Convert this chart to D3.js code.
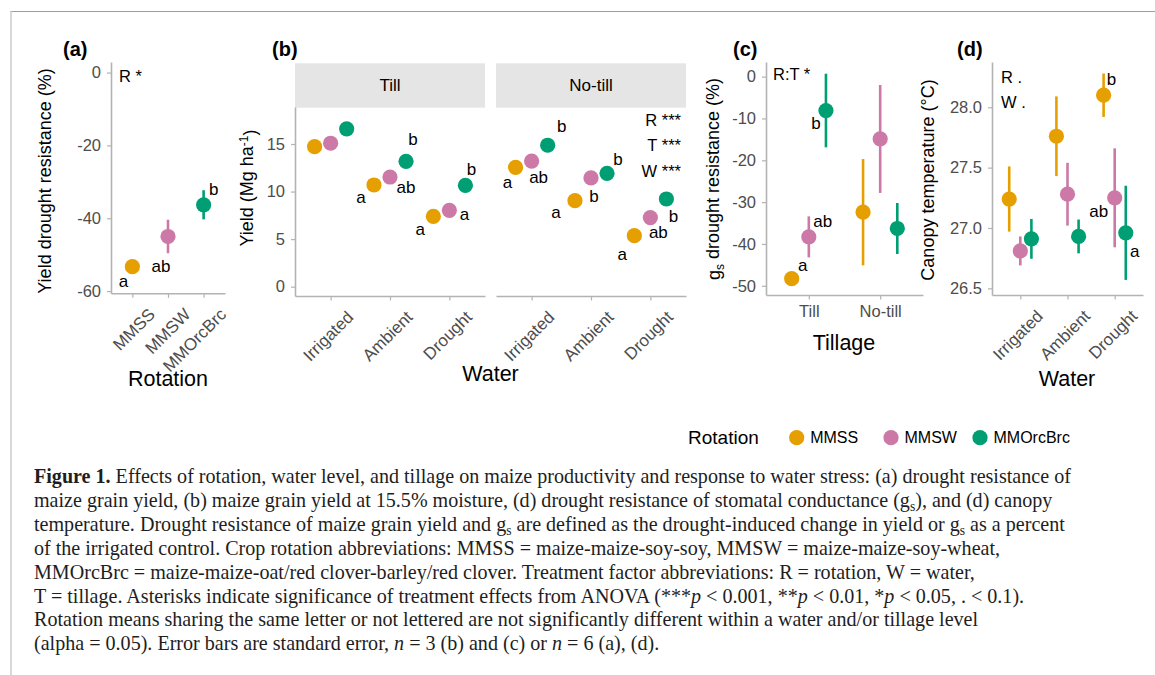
<!DOCTYPE html>
<html>
<head>
<meta charset="utf-8">
<script src="https://cdn.jsdelivr.net/npm/d3@7"></script>
<style>
  body { margin: 0; background: #fff; }
  svg { display: block; font-family: "Liberation Sans", Arial, Helvetica, sans-serif; }
</style>
</head>
<body>
<svg id="fig" width="1155" height="675"></svg>
<script>
// ---- data ----
const rotations = ["MMSS", "MMSW", "MMOrcBrc"];
const rotationColors = ["#E69F00", "#CC79A7", "#009E73"];
const waterLevels = ["Irrigated", "Ambient", "Drought"];
const tillages = ["Till", "No-till"];

// (a) yield drought resistance (%), one value per rotation
const yieldResist = [-53.3, -45.0, -36.3];
const yieldResistSE = [0.8, 4.6, 4.0];
const yieldResistLetters = ["a", "ab", "b"];
const yieldResistTicks = [0, -20, -40, -60];

// (b) yield (Mg/ha): rows = water level, columns = rotation
const yieldTill = [[14.72, 15.08, 16.60], [10.69, 11.53, 13.18], [7.40, 8.03, 10.66]];
const yieldTillSE = [[0.25, 0.55, 0.3], [0.2, 0.3, 0.3], [0.2, 0.55, 0.3]];
const yieldNoTill = [[12.55, 13.20, 14.87], [9.04, 11.43, 11.92], [5.36, 7.26, 9.22]];
const yieldNoTillSE = [[0.3, 0.3, 0.45], [0.3, 0.3, 0.3], [0.25, 0.3, 0.3]];
const yieldLettersTill = [["", "", ""], ["a", "ab", "b"], ["a", "a", "b"]];
const yieldLettersNoTill = [["a", "ab", "b"], ["a", "b", "b"], ["a", "ab", "b"]];
const yieldTicks = [0, 5, 10, 15];

// (c) gs drought resistance (%): one value per rotation, by tillage
const gsResistTill = [-48.3, -38.3, -8.1];
const gsResistTillSE = [0.6, 4.9, 8.8];
const gsResistNoTill = [-32.4, -14.9, -36.3];
const gsResistNoTillSE = [12.7, 12.9, 6.1];
const gsLettersTill = ["a", "ab", "b"];
const gsLettersNoTill = ["", "", ""];
const gsTicks = [0, -10, -20, -30, -40, -50];

// (d) canopy temperature (C): rows = water level, columns = rotation
const canopyTemp = [[27.24, 26.81, 26.91], [27.76, 27.28, 26.93], [28.10, 27.25, 26.96]];
const canopyTempSE = [[0.27, 0.12, 0.165], [0.33, 0.26, 0.14], [0.18, 0.41, 0.39]];
const canopyLetters = [["", "", ""], ["", "", ""], ["b", "ab", "a"]];
const canopyTicks = [26.5, 27.0, 27.5, 28.0];

// ---- layout: letter offsets from the point centre (px) ----
const nudgeA = [[-9, 15], [-7, 30], [10, -15]];
const nudgeBTill = [[[0, 0], [0, 0], [0, 0]], [[-13, 13], [16, 10], [7, -22]], [[-13, 13], [15, 4], [6, -16]]];
const nudgeBNoTill = [[[-8, 15], [7, 16], [14, -19]], [[-19, 12], [3, 19], [11, -14]], [[-12, 19], [8, 15], [7, 18]]];
const nudgeCTill = [[11, -13], [14, -15], [-10, 13]];
const nudgeD = [[[0, 0], [0, 0], [0, 0]], [[0, 0], [0, 0], [0, 0]], [[8, -16], [-16, 14], [9, 19]]];

const sans = '"Liberation Sans", Arial, Helvetica, sans-serif';
const serif = '"Liberation Serif", "Times New Roman", serif';
const axisGrey = "#b3b3b3";
const tickGrey = "#4d4d4d";

const svg = d3.select("#fig");

// outer frame of the figure page
svg.append("line").attr("x1", 10).attr("x2", 1155).attr("y1", 11.5).attr("y2", 11.5)
    .attr("stroke", "#9d9d9d").attr("stroke-width", 1.2);
svg.append("line").attr("x1", 11).attr("x2", 11).attr("y1", 11).attr("y2", 675)
    .attr("stroke", "#cfcfcf").attr("stroke-width", 1.6);

// ---- helpers ----
function styleAxis(a) {
    a.select(".domain").attr("stroke", axisGrey).attr("stroke-width", 1.6);
    a.selectAll(".tick line").attr("stroke", axisGrey).attr("stroke-width", 1.2);
    a.selectAll(".tick text").attr("fill", tickGrey)
        .style("font-size", "16.5px").style("font-family", sans);
}

function drawYAxis(x0, y, ticks, fmt) {
    const a = svg.append("g").attr("transform", `translate(${x0},0)`)
        .call(d3.axisLeft(y).tickValues(ticks).tickFormat(fmt)
            .tickSize(4).tickSizeOuter(0).tickPadding(6));
    styleAxis(a);
}

function drawXAxis(y0, x, rotated) {
    const a = svg.append("g").attr("transform", `translate(0,${y0})`)
        .call(d3.axisBottom(x).tickSize(4.5).tickSizeOuter(0).tickPadding(6));
    styleAxis(a);
    if (rotated) {
        a.selectAll(".tick text")
            .attr("x", 0).attr("y", 0).attr("dy", "0.35em")
            .attr("text-anchor", "end")
            .style("font-size", "17px")
            .attr("transform", "translate(19,18) rotate(-45)");
    }
}

function drawPointRanges(pts, y) {
    const g = svg.append("g");
    const each = g.selectAll("g").data(pts).enter().append("g");
    each.append("line")
        .attr("x1", d => d.px).attr("x2", d => d.px)
        .attr("y1", d => y(d.mean - d.se)).attr("y2", d => y(d.mean + d.se))
        .attr("stroke", d => rotationColors[d.rot]).attr("stroke-width", 2.6);
    each.append("circle")
        .attr("cx", d => d.px).attr("cy", d => y(d.mean)).attr("r", 7.6)
        .attr("fill", d => rotationColors[d.rot]);
    g.selectAll("text.letter").data(pts.filter(d => d.letter)).enter()
        .append("text").attr("class", "letter")
        .attr("x", d => d.px + d.nudge[0]).attr("y", d => y(d.mean) + d.nudge[1])
        .attr("text-anchor", "middle").attr("dominant-baseline", "central")
        .style("font-size", "17px").style("fill", "#000")
        .text(d => d.letter);
}

function panelLabel(x, txt) {
    svg.append("text").attr("x", x).attr("y", 56)
        .style("font-size", "20px").style("font-weight", "bold").text(txt);
}

function yTitle(cx, cy) {
    return svg.append("text")
        .attr("transform", `translate(${cx},${cy}) rotate(-90)`)
        .attr("text-anchor", "middle").attr("dy", "0.35em")
        .style("font-size", "18px");
}

function xTitle(cx, cy, txt) {
    svg.append("text").attr("x", cx).attr("y", cy).attr("dy", "0.35em")
        .attr("text-anchor", "middle").style("font-size", "21.5px").text(txt);
}

function statText(x, y, txt, anchor) {
    svg.append("text").attr("x", x).attr("y", y).attr("dy", "0.35em")
        .attr("text-anchor", anchor).style("font-size", "16.5px").text(txt);
}

const plain = d => String(d);

// ---- (a) ----
const xA = d3.scalePoint().domain(rotations).range([111, 225]).padding(0.6);
const yA = d3.scaleLinear().domain([-60.6, 2.9]).range([293.3, 62]);
drawYAxis(111, yA, yieldResistTicks, plain);
drawXAxis(293.3, xA, true);
drawPointRanges(rotations.map((r, i) => ({
    rot: i, px: xA(r), mean: yieldResist[i], se: yieldResistSE[i],
    letter: yieldResistLetters[i], nudge: nudgeA[i]
})), yA);
panelLabel(63, "(a)");
statText(119, 76.5, "R *", "start");
yTitle(45, 181).text("Yield drought resistance (%)");
xTitle(168, 378, "Rotation");

// ---- (b) ----
const yB = d3.scaleLinear().domain([-0.98, 18.89]).range([296, 107]);
const facetsB = [
    { name: "Till", range: [295, 485], vals: yieldTill, se: yieldTillSE, letters: yieldLettersTill, nudge: nudgeBTill },
    { name: "No-till", range: [496, 686], vals: yieldNoTill, se: yieldNoTillSE, letters: yieldLettersNoTill, nudge: nudgeBNoTill }
];
facetsB.forEach((f, fi) => {
    const x = d3.scalePoint().domain(waterLevels).range(f.range).padding(0.6);
    const dodge = x.step() * 0.27;
    svg.append("rect").attr("x", f.range[0]).attr("y", 63.3)
        .attr("width", f.range[1] - f.range[0]).attr("height", 44.4).attr("fill", "#e5e5e5");
    svg.append("text").attr("x", (f.range[0] + f.range[1]) / 2).attr("y", 85.5).attr("dy", "0.35em")
        .attr("text-anchor", "middle").style("font-size", "17px").text(f.name);
    if (fi === 0) drawYAxis(f.range[0], yB, yieldTicks, plain);
    drawXAxis(296, x, true);
    const pts = waterLevels.flatMap((w, wi) => rotations.map((r, ri) => ({
        rot: ri, px: x(w) + (ri - 1) * dodge, mean: f.vals[wi][ri], se: f.se[wi][ri],
        letter: f.letters[wi][ri], nudge: f.nudge[wi][ri]
    })));
    drawPointRanges(pts, yB);
});
panelLabel(272, "(b)");
["R ***", "T ***", "W ***"].forEach((s, i) => statText(681, 120 + i * 25.7, s, "end"));
const tb = yTitle(247, 188);
tb.append("tspan").text("Yield (Mg ha");
tb.append("tspan").attr("dy", "-0.45em").style("font-size", "12px").text("-1");
tb.append("tspan").attr("dy", "0.45em").text(")");
xTitle(490.5, 373, "Water");

// ---- (c) ----
const xC = d3.scalePoint().domain(tillages).range([766, 923]).padding(0.6);
const yC = d3.scaleLinear().domain([-52.2, 3.5]).range([295, 62]);
drawYAxis(766, yC, gsTicks, plain);
drawXAxis(295, xC, false);
const dodgeC = xC.step() * 0.24;
const gsVals = [gsResistTill, gsResistNoTill];
const gsSE = [gsResistTillSE, gsResistNoTillSE];
const gsLetters = [gsLettersTill, gsLettersNoTill];
drawPointRanges(tillages.flatMap((t, ti) => rotations.map((r, ri) => ({
    rot: ri, px: xC(t) + (ri - 1) * dodgeC, mean: gsVals[ti][ri], se: gsSE[ti][ri],
    letter: gsLetters[ti][ri], nudge: ti === 0 ? nudgeCTill[ri] : [0, 0]
}))), yC);
panelLabel(733, "(c)");
statText(773, 74, "R:T *", "start");
const tc = yTitle(714, 179);
tc.append("tspan").text("g");
tc.append("tspan").attr("dy", "0.3em").style("font-size", "12px").text("s");
tc.append("tspan").attr("dy", "-0.3em").text(" drought resistance (%)");
xTitle(844, 342, "Tillage");

// ---- (d) ----
const xD = d3.scalePoint().domain(waterLevels).range([992, 1143]).padding(0.6);
const yD = d3.scaleLinear().domain([26.445, 28.375]).range([295, 62]);
drawYAxis(992, yD, canopyTicks, d3.format(".1f"));
drawXAxis(295, xD, true);
const dodgeD = xD.step() * 0.235;
drawPointRanges(waterLevels.flatMap((w, wi) => rotations.map((r, ri) => ({
    rot: ri, px: xD(w) + (ri - 1) * dodgeD, mean: canopyTemp[wi][ri], se: canopyTempSE[wi][ri],
    letter: canopyLetters[wi][ri], nudge: nudgeD[wi][ri]
}))), yD);
panelLabel(957, "(d)");
statText(1001, 77.5, "R .", "start");
statText(1001, 102.5, "W .", "start");
yTitle(928, 180).text("Canopy temperature (\u00B0C)");
xTitle(1067, 378, "Water");

// ---- legend ----
const legendX = [796.7, 891, 980];
const legendY = 437.7;
svg.append("text").attr("x", 688).attr("y", legendY).attr("dy", "0.35em")
    .style("font-size", "19px").text("Rotation");
const leg = svg.append("g").selectAll("g").data(rotations).enter().append("g");
leg.append("circle").attr("cx", (d, i) => legendX[i]).attr("cy", legendY).attr("r", 7.6)
    .attr("fill", (d, i) => rotationColors[i]);
leg.append("text").attr("x", (d, i) => legendX[i] + 13.5).attr("y", legendY).attr("dy", "0.35em")
    .style("font-size", "16px").text(d => d);

// ---- caption ----
const captionLines = [
    [["Figure 1.", "b"], [" Effects of rotation, water level, and tillage on maize productivity and response to water stress: (a) drought resistance of"]],
    [["maize grain yield, (b) maize grain yield at 15.5% moisture, (d) drought resistance of stomatal conductance (g"], ["s", "sub"], ["), and (d) canopy"]],
    [["temperature. Drought resistance of maize grain yield and g"], ["s", "sub"], [" are defined as the drought-induced change in yield or g"], ["s", "sub"], [" as a percent"]],
    [["of the irrigated control. Crop rotation abbreviations: MMSS = maize-maize-soy-soy, MMSW = maize-maize-soy-wheat,"]],
    [["MMOrcBrc = maize-maize-oat/red clover-barley/red clover. Treatment factor abbreviations: R = rotation, W = water,"]],
    [["T = tillage. Asterisks indicate significance of treatment effects from ANOVA (***"], ["p", "i"], [" < 0.001, **"], ["p", "i"], [" < 0.01, *"], ["p", "i"], [" < 0.05, . < 0.1)."]],
    [["Rotation means sharing the same letter or not lettered are not significantly different within a water and/or tillage level"]],
    [["(alpha = 0.05). Error bars are standard error, "], ["n", "i"], [" = 3 (b) and (c) or "], ["n", "i"], [" = 6 (a), (d)."]]
];
const cap = svg.append("g").style("font-family", serif).style("fill", "#1e1e1e");
const capTexts = captionLines.map((segs, li) => {
    const t = cap.append("text").attr("x", 34).attr("y", 483 + li * 23.9).style("font-size", "20px");
    let shifted = false;
    segs.forEach(([s, kind]) => {
        const sp = t.append("tspan").text(s);
        if (kind === "b") sp.style("font-weight", "bold");
        if (kind === "i") sp.style("font-style", "italic");
        if (kind === "sub") { sp.attr("dy", 4).style("font-size", "13px"); shifted = true; }
        else if (shifted) { sp.attr("dy", -4); shifted = false; }
    });
    return t;
});
// fit the first line to the printed width
const firstLen = capTexts[0].node().getComputedTextLength();
const capSize = 20 * 1037 / firstLen;
capTexts.forEach(t => t.style("font-size", capSize + "px"));
cap.selectAll("tspan").filter(function () { return this.style.fontSize === "13px"; })
    .style("font-size", (capSize * 0.68) + "px");
</script>
</body>
</html>
